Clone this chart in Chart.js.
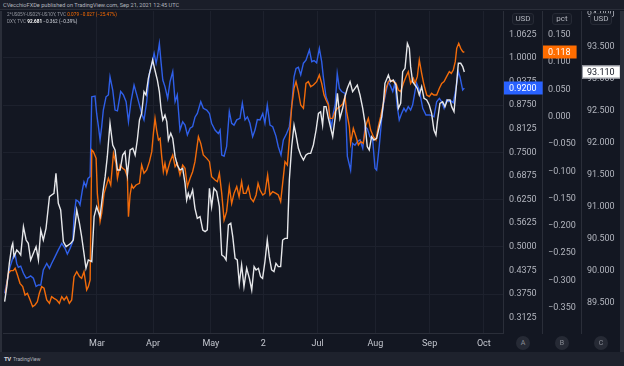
<!DOCTYPE html>
<html lang="en">
<head>
    <meta charset="UTF-8">
    <title>DXY vs US yield curve</title>
    <script src="https://cdn.jsdelivr.net/npm/chart.js"></script>
    <style>
        body {
            margin: 0;
            width: 624px;
            height: 366px;
            background: #131722;
            font-family: Roboto, "Liberation Sans", sans-serif;
            position: relative;
            overflow: hidden;
        }
        #hdr {
            position: absolute; left: 0; top: 0; width: 624px; height: 10px;
            background: #1a1e29; border-bottom: 1px solid #2a2e39;
            color: #b2b5be; font-size: 5.6px; line-height: 10px; padding-left: 3px; box-sizing: border-box;
        }
        .lg { position: absolute; left: 7px; font-size: 4.7px; color: #9598a1; white-space: nowrap; z-index: 2; }
        .lg .o { color: #ff6d00; }
        .lg .w { color: #ffffff; font-weight: bold; }
        .lg .v { color: #d1d4dc; }
        #frameL { position: absolute; left: 0; top: 11px; width: 2px; height: 341px; background: #2a2e39; }
        #frameR { position: absolute; left: 620px; top: 11px; width: 4px; height: 341px; background: #2a2e39; }
        #foot {
            position: absolute; left: 0; top: 352px; width: 624px; height: 14px;
            background: #1e222d; color: #b2b5be; font-size: 5px; line-height: 14px;
        }
        #foot b { position: absolute; left: 4px; font-size: 6px; color: #d1d4dc; letter-spacing: -0.5px; }
        #foot span { position: absolute; left: 13px; }
        .unit {
            position: absolute; top: 13px; height: 10px; line-height: 10px; font-size: 8px;
            color: #b2b5be; text-align: center; background: #171b26; border: 1px solid #262a35;
            border-radius: 3px; z-index: 2;
        }
        .ab {
            position: absolute; top: 336px; width: 14px; height: 14px; border-radius: 50%;
            background: #262a35; color: #8a8d96; font-size: 7px; line-height: 14px; text-align: center; z-index: 2;
        }
        canvas { position: absolute; left: 2px; top: 11px; }
    </style>
</head>
<body>
    <div id="hdr">CVecchioFXDe published on TradingView.com, Sep 21, 2021 12:45 UTC</div>
    <div class="lg" style="top:12px">2*US05Y-US02Y-US10Y, TVC <span class="o">0.079 &minus;0.027 (&minus;25.47%)</span></div>
    <div class="lg" style="top:19px">DXY, TVC <span class="w">92.681</span> <span class="v">&minus;0.362 (&minus;0.39%)</span></div>
    <div id="frameL"></div>
    <div id="frameR"></div>
    <canvas id="chart" width="618" height="341"></canvas>
    <div class="unit" style="left:512px;width:20px">USD</div>
    <div class="unit" style="left:552px;width:18px">pct</div>
    <div class="unit" style="left:590px;width:20px">USD</div>
    <div class="ab" style="left:516px">A</div>
    <div class="ab" style="left:555px">B</div>
    <div class="ab" style="left:594px">C</div>
    <div id="foot"><b>TV</b><span>TradingView</span></div>

    <script>
        // x values are day of year 2021 (Jan 1 = 0)
        const monthDays = [59, 90, 122, 151, 181, 213, 243, 273];
        const monthLabels = ['Mar', 'Apr', 'May', '2', 'Jul', 'Aug', 'Sep', 'Oct'];

        // blue series, left price scale (A, USD)
        const blueDays = [7.9, 10.9, 12.7, 13.7, 14.6, 15.5, 16.8, 18.3, 19.8, 21.0, 22.3, 23.8, 25.3, 26.6, 27.9, 29.3,
            31.2, 32.7, 33.9, 35.8, 37.6, 39.5, 41.3, 42.6, 44.1, 45.6, 46.3, 47.4, 48.7, 49.6, 50.9, 51.8, 52.9, 54.0,
            55.2, 56.1, 57.9, 58.8, 59.8, 60.7, 61.6, 62.5, 64.0, 65.3, 66.2, 67.7, 69.0, 70.3, 72.1, 73.6, 75.1, 76.4,
            77.8, 79.5, 81.0, 82.5, 83.7, 85.0, 86.5, 88.0, 89.3, 90.6, 91.7, 92.4, 93.5, 94.4, 95.4, 96.6, 98.1, 99.4,
            100.9, 102.2, 103.4, 104.9, 106.4, 107.7, 109.0, 110.5, 111.9, 113.2, 114.5, 116.4, 117.8, 119.7, 121.2,
            122.4, 124.3, 126.1, 127.1, 128.0, 129.3, 130.7, 132.2, 133.5, 134.8, 136.3, 138.1, 139.4, 140.9, 142.2,
            143.6, 145.1, 146.4, 147.7, 149.2, 150.7, 151.9, 153.2, 154.7, 156.2, 158.0, 159.3, 160.8, 162.1, 163.9,
            165.4, 166.7, 168.0, 169.1, 170.4, 171.7, 173.2, 174.6, 176.5, 177.8, 179.1, 180.5, 182.0, 183.3, 184.2,
            185.7, 187.0, 187.9, 188.8, 189.7, 190.8, 191.9, 193.1, 194.3, 196.2, 197.5, 199.3, 200.4, 201.7, 203.0,
            204.5, 206.0, 207.3, 208.5, 210.0, 211.5, 212.8, 213.7, 215.2, 216.5, 217.4, 218.9, 220.2, 221.5, 222.6,
            223.8, 225.1, 226.2, 227.5, 228.8, 229.9, 231.2, 232.5, 233.6, 234.9, 235.8, 237.3, 239.2, 241.0, 243.2,
            245.4, 246.9, 248.4, 249.7, 251.0, 252.4, 253.5, 254.6, 256.1, 257.6, 258.9, 259.8, 261.3, 262.2];
        const blueValues = [0.377, 0.4475, 0.474, 0.481, 0.456, 0.446, 0.449, 0.430, 0.417, 0.419, 0.423, 0.417, 0.395, 0.399, 0.399, 0.439,
            0.456, 0.443, 0.456, 0.474, 0.492, 0.509, 0.496, 0.481, 0.496, 0.514, 0.580, 0.624, 0.620, 0.611, 0.650, 0.672, 0.659, 0.681,
            0.686, 0.897, 0.899, 0.853, 0.818, 0.783, 0.818, 0.862, 0.897, 0.902, 0.950, 0.915, 0.862, 0.860, 0.911, 0.902, 0.884, 0.831,
            0.884, 0.928, 0.902, 0.875, 0.853, 0.836, 0.884, 0.959, 0.981, 1.012, 0.986, 1.003, 1.0385, 0.990, 0.9415, 0.924, 0.893, 0.937,
            0.9635, 0.884, 0.902, 0.809, 0.831, 0.822, 0.796, 0.814, 0.818, 0.843, 0.853, 0.884, 0.8665, 0.862, 0.853,
            0.827, 0.809, 0.800, 0.809, 0.743, 0.740, 0.765, 0.858, 0.827, 0.822, 0.836, 0.840, 0.880, 0.836, 0.844,
            0.827, 0.7915, 0.809, 0.837, 0.836, 0.853, 0.827, 0.875, 0.822, 0.818, 0.793, 0.765, 0.743, 0.783, 0.800,
            0.818, 0.871, 0.950, 0.972, 0.975, 0.955, 0.986, 0.994, 1.021, 0.990, 0.993, 0.987, 1.025, 0.990, 0.950,
            0.897, 0.880, 0.836, 0.818, 0.853, 0.878, 0.959, 0.919, 0.911, 0.906, 0.739, 0.703, 0.774, 0.769, 0.778,
            0.783, 0.761, 0.818, 0.813, 0.7915, 0.783, 0.708, 0.703, 0.769, 0.840, 0.875, 0.911, 0.937, 0.924, 0.911,
            0.933, 0.871, 0.836, 0.853, 0.8665, 0.858, 0.871, 0.862, 0.875, 0.911, 0.933, 0.915, 0.8665, 0.849, 0.849,
            0.844, 0.884, 0.893, 0.884, 0.8665, 0.8885, 0.884, 0.887, 0.8815, 0.919, 0.9635, 0.950, 0.915, 0.920];

        // 2*US05Y-US02Y-US10Y, pct scale (B)
        const curveDays = [8.3, 10.0, 11.3, 12.7, 13.7, 15.0, 16.4, 17.9, 19.2, 20.5, 22.0, 23.4, 24.7, 26.0, 27.1, 28.4,
            29.7, 31.2, 32.7, 33.9, 35.2, 36.7, 38.2, 39.5, 40.8, 42.2, 43.7, 45.0, 46.3, 47.8, 49.3, 50.5, 51.8, 53.3,
            54.2, 55.2, 56.1, 57.0, 58.5, 59.2, 60.7, 61.6, 62.9, 64.0, 65.3, 66.6, 68.1, 69.5, 70.3, 71.8, 73.2, 74.5,
            75.8, 76.4, 77.3, 78.2, 79.1, 80.6, 82.5, 83.7, 85.0, 86.5, 88.0, 89.3, 90.2, 91.1, 92.0, 93.0, 93.9, 94.8,
            95.7, 96.6, 97.6, 99.4, 100.9, 102.2, 103.4, 104.9, 106.4, 107.7, 109.0, 110.5, 111.9, 113.2, 115.1, 116.4,
            117.8, 119.7, 121.2, 122.4, 124.3, 125.6, 126.7, 128.0, 129.3, 130.7, 132.2, 133.5, 134.8, 136.3, 137.6,
            139.0, 140.0, 141.4, 142.7, 144.0, 145.5, 147.0, 148.1, 149.2, 150.7, 151.9, 153.4, 154.7, 156.2, 158.0,
            159.3, 160.6, 161.7, 163.0, 164.3, 165.4, 166.7, 168.0, 169.1, 170.4, 171.7, 173.2, 174.6, 175.9, 177.2,
            178.7, 180.5, 182.0, 183.3, 184.6, 185.7, 187.0, 187.9, 189.4, 190.7, 192.0, 193.4, 194.9, 196.2, 197.1,
            198.6, 199.3, 200.8, 202.3, 203.6, 204.9, 206.3, 207.8, 209.1, 210.4, 211.9, 213.3, 214.6, 215.9, 217.4,
            218.9, 220.2, 221.4, 222.9, 224.4, 225.7, 227.0, 228.5, 229.9, 231.2, 232.5, 234.0, 234.9, 236.2, 237.3,
            238.6, 239.9, 241.4, 242.8, 244.1, 245.4, 246.9, 248.4, 249.7, 251.0, 252.4, 253.9, 255.0, 256.1, 257.2,
            258.0, 259.1, 260.2, 261.3, 262.2];
        const curveValues = [-0.3235, -0.2869, -0.282, -0.282, -0.2777, -0.2899, -0.3052, -0.3113, -0.3266, -0.3235, -0.3357, -0.3479, -0.3449, -0.3388, -0.3235, -0.3113,
            -0.3143, -0.3357, -0.3418, -0.3296, -0.3327, -0.3357, -0.3418, -0.3296, -0.3357, -0.3296, -0.3418, -0.3357, -0.293, -0.2838, -0.293, -0.296, -0.2838, -0.3174,
            -0.3113, -0.2991, -0.061, -0.064, -0.0763, -0.1404, -0.1922, -0.177, -0.1404, -0.1281, -0.1129, -0.1251, -0.0671, -0.0854, -0.1129, -0.0885, -0.0946, -0.0976,
            -0.1098, -0.1831, -0.1434, -0.1251, -0.1312, -0.1251, -0.122, -0.0885, -0.1037, -0.0976, -0.0824, -0.064, -0.0305, -0.003, -0.0244, -0.0427, -0.0396, -0.0732,
            -0.1007, -0.0854, -0.1037, -0.0824, -0.0701, -0.0915, -0.0854, -0.1068, -0.0885, -0.0946, -0.1281, -0.1129, -0.1007, -0.0824, -0.0366, -0.0488,
            -0.0701, -0.0763, -0.0824, -0.1098, -0.1159, -0.119, -0.1037, -0.1404, -0.1892, -0.1739, -0.1281, -0.1587, -0.1404, -0.1281, -0.1465,
            -0.119, -0.1404, -0.1404, -0.1281, -0.1495, -0.1556, -0.1434, -0.122, -0.1342, -0.1434, -0.1404, -0.1068, -0.1434, -0.1373, -0.1404,
            -0.1434, -0.1556, -0.122, -0.0824, -0.0885, -0.0427, 0.0184, 0.052, 0.0642, 0.0458, 0.0214, 0.0153, 0.0611, 0.0642, 0.055,
            0.0581, 0.0642, 0.0764, 0.0611, 0.0397, 0.0306, 0.0214, -0.003, -0.003, 0.0092, 0.0153, 0.0184, 0.0233, 0.0367, 0.0092,
            -0.0183, -0.0488, -0.0213, -0.0366, -0.0518, -0.0457, -0.0488, -0.0152, -0.003, -0.0244, -0.0366, -0.0427, -0.0183, 0.0001, 0.0245,
            0.052, 0.0642, 0.0672, 0.0642, 0.0611, 0.0489, 0.0458, 0.0611, 0.0733, 0.0825, 0.0611, 0.0703, 0.0611, 0.0733, 0.1038,
            0.0794, 0.058, 0.0397, 0.0367, 0.0428, 0.0397, 0.0397, 0.052, 0.0611, 0.0642, 0.0733, 0.0825, 0.0794, 0.0855, 0.1008,
            0.1252, 0.1344, 0.1252, 0.1191, 0.118];

        // DXY, right-most scale (C)
        const dxyDays = [7.9, 9.1, 10.5, 11.8, 12.4, 13.1, 14.6, 15.5, 16.8, 18.3, 19.8, 21.0, 22.3, 23.8, 25.3, 26.6,
            27.9, 29.3, 30.8, 32.7, 33.9, 35.2, 36.3, 37.6, 38.9, 40.4, 41.9, 43.2, 44.5, 45.9, 47.8, 49.3, 50.5, 51.8,
            52.9, 54.2, 56.1, 57.4, 58.8, 60.7, 62.2, 63.5, 64.7, 66.2, 67.7, 69.0, 70.3, 71.8, 73.2, 74.5, 75.8, 77.3,
            78.8, 80.1, 81.3, 82.5, 83.7, 85.0, 86.1, 87.4, 88.7, 89.8, 90.6, 91.7, 92.4, 93.5, 94.4, 95.4, 96.6, 97.6,
            98.5, 99.8, 100.9, 102.2, 103.4, 104.9, 106.4, 107.7, 108.6, 109.5, 110.4, 111.9, 113.2, 114.5, 116.0, 117.5,
            118.8, 120.0, 121.2, 122.4, 123.7, 125.2, 126.7, 128.0, 129.3, 130.4, 131.7, 133.0, 134.1, 135.4, 136.6,
            137.7, 139.0, 140.3, 141.8, 143.3, 144.6, 145.9, 147.0, 148.3, 149.5, 150.6, 151.9, 153.2, 154.3, 155.6,
            156.9, 158.0, 159.3, 160.6, 161.7, 163.0, 164.3, 165.4, 166.7, 168.0, 169.1, 170.4, 171.7, 173.2, 174.6,
            175.9, 177.2, 178.7, 180.2, 181.5, 182.7, 183.8, 184.6, 185.7, 187.0, 187.9, 189.4, 190.7, 192.0, 193.4,
            194.9, 196.2, 197.5, 199.0, 200.4, 201.7, 203.0, 204.5, 206.0, 207.3, 208.5, 209.6, 210.9, 212.2, 213.7,
            215.2, 216.5, 217.4, 218.3, 220.2, 221.4, 222.9, 224.4, 225.7, 227.0, 228.1, 229.4, 230.7, 231.8, 232.5,
            233.6, 234.9, 236.2, 237.3, 238.6, 239.9, 241.4, 242.8, 244.1, 245.4, 246.5, 247.3, 248.7, 250.2, 251.5,
            252.8, 254.3, 255.2, 256.5, 257.6, 258.9, 260.2, 261.3, 262.2];
        const dxyValues = [89.521, 89.755, 90.120, 90.380, 90.432, 90.224, 90.328, 90.302, 90.250, 90.693, 90.484, 90.432, 90.172, 90.276, 90.380, 90.172,
            90.641, 90.484, 90.667, 91.161, 91.187, 91.213, 91.526, 91.057, 90.953, 90.458, 90.380, 90.406, 90.432, 90.484, 90.953, 90.745, 90.536, 90.276,
            90.042, 90.172, 90.146, 90.849, 91.005, 90.849, 91.213, 91.474, 91.786, 92.307, 91.969, 91.891, 91.578, 91.578, 91.812, 91.864, 91.500, 91.891,
            91.917, 91.812, 92.047, 92.359, 92.463, 92.802, 92.750, 93.010, 93.166, 93.297, 93.193, 93.062, 92.984, 92.802, 92.542, 92.359, 92.437, 92.333,
            92.047, 92.151, 92.073, 91.786, 91.656, 91.578, 91.604, 91.370, 91.109, 91.213, 91.135, 91.266, 90.979, 90.823, 90.849, 90.641,
            90.615, 90.641, 91.292, 91.005, 91.292, 91.240, 91.005, 90.250, 90.224, 90.172, 90.719, 90.745, 90.536, 90.198, 90.172,
            89.807, 90.094, 89.755, 90.042, 89.885, 89.703, 90.068, 90.016, 90.042, 89.911, 89.885, 90.146, 90.484, 90.224, 90.016,
            89.990, 90.120, 90.068, 90.068, 90.484, 90.510, 90.510, 91.422, 91.943, 92.281, 92.125, 91.917, 91.812, 91.734, 91.812,
            91.838, 91.838, 91.969, 92.203, 92.463, 92.489, 92.281, 92.568, 92.568, 92.385, 92.281, 92.099, 92.385, 92.776, 92.385,
            92.542, 92.724, 92.854, 92.958, 92.802, 92.854, 92.906, 92.750, 92.542, 92.307, 91.943, 91.891, 92.099, 92.047, 92.073,
            92.255, 92.411, 92.620, 92.932, 93.062, 92.958, 92.984, 92.906, 92.542, 92.620, 93.114, 93.166, 93.557, 93.479, 93.193,
            92.958, 92.906, 92.854, 92.750, 92.880, 92.698, 92.672, 92.594, 92.463, 92.203, 92.125, 92.333, 92.620, 92.646, 92.568,
            92.672, 92.672, 92.568, 92.489, 92.828, 93.245, 93.245, 93.193, 93.110];

        const tickColor = '#b2b5be';
        const gridColor = '#1d212d';
        const lineColor = '#2a2e39';
        const tickFont = { family: 'Roboto', size: 9 };

        function pairs(days, values) {
            return days.map((d, i) => ({ x: d, y: values[i] }));
        }

        function rightAxis(min, max, step, digits, weight, grid) {
            return {
                position: 'right',
                weight: weight,
                min: min,
                max: max,
                afterFit: s => { s.width = 39; s.paddingTop = 0; s.paddingBottom = 0; },
                ticks: {
                    stepSize: step,
                    includeBounds: false,
                    padding: 6,
                    color: tickColor,
                    font: tickFont,
                    callback: v => v.toFixed(digits).replace('-', '\u2212')
                },
                grid: {
                    drawTicks: false,
                    color: grid ? (c => (c.tick && Math.abs(c.tick.value * 8 - Math.round(c.tick.value * 8)) < 1e-6) ? gridColor : 'rgba(0,0,0,0)') : 'rgba(0,0,0,0)'
                },
                border: { display: true, color: lineColor }
            };
        }

        // price tags at the right, drawn on top of the scales
        const lastTags = {
            id: 'lastTags',
            afterDraw(chart) {
                const ctx = chart.ctx;
                ctx.save();
                ctx.font = '9px Roboto';
                ctx.textBaseline = 'middle';
                chart.data.datasets.forEach(ds => {
                    const sc = chart.scales[ds.yAxisID];
                    const last = ds.data[ds.data.length - 1].y;
                    const txt = last.toFixed(ds.tagDigits);
                    const y = Math.round(sc.getPixelForValue(last));
                    const w = ctx.measureText(txt).width + 11;
                    ctx.fillStyle = ds.tagBg;
                    ctx.fillRect(sc.left + 1, y - 6.5, w, 13);
                    if (ds.tagBorder) {
                        ctx.strokeStyle = ds.tagBorder;
                        ctx.lineWidth = 1;
                        ctx.strokeRect(sc.left + 1.5, y - 6, w - 1, 12);
                    }
                    ctx.fillStyle = ds.tagText;
                    ctx.fillText(txt, sc.left + 6, y + 0.5);
                });
                ctx.restore();
            }
        };

        const chart = new Chart(document.getElementById('chart').getContext('2d'), {
            type: 'line',
            data: {
                datasets: [
                    {
                        label: 'DXY',
                        data: pairs(dxyDays, dxyValues),
                        yAxisID: 'yC',
                        borderColor: '#e6e7ea',
                        tagDigits: 3, tagBg: '#ffffff', tagText: '#131722', tagBorder: '#9598a1'
                    },
                    {
                        label: '2*US05Y-US02Y-US10Y',
                        data: pairs(curveDays, curveValues),
                        yAxisID: 'yB',
                        borderColor: '#f26b0a',
                        tagDigits: 3, tagBg: '#ff6d00', tagText: '#ffffff'
                    },
                    {
                        label: 'Blue',
                        data: pairs(blueDays, blueValues),
                        yAxisID: 'yA',
                        borderColor: '#2f5fe8',
                        tagDigits: 4, tagBg: '#2962ff', tagText: '#ffffff'
                    }
                ]
            },
            options: {
                responsive: false,
                animation: false,
                layout: { padding: { left: 1, top: 0, right: 0, bottom: 0 } },
                elements: {
                    point: { radius: 0 },
                    line: { borderWidth: 1.4, tension: 0 }
                },
                plugins: {
                    legend: { display: false },
                    tooltip: { enabled: false }
                },
                scales: {
                    x: {
                        type: 'linear',
                        position: 'bottom',
                        min: 7.0,
                        max: 283.6,
                        afterBuildTicks: s => { s.ticks = monthDays.map(v => ({ value: v })); },
                        afterFit: s => { s.height = 19; s.paddingLeft = 0; s.paddingRight = 0; },
                        ticks: {
                            autoSkip: false,
                            maxRotation: 0,
                            padding: 5,
                            color: '#c3c6ce',
                            font: tickFont,
                            callback: (v, i) => monthLabels[i]
                        },
                        grid: { drawTicks: false, color: gridColor },
                        border: { display: true, color: lineColor }
                    },
                    yA: rightAxis(0.2720, 1.1241, 0.0625, 4, 0, true),
                    yB: rightAxis(-0.3962, 0.1936, 0.05, 3, 1, false),
                    yC: rightAxis(89.031, 94.0625, 0.5, 3, 2, false)
                }
            },
            plugins: [lastTags]
        });
    </script>
</body>
</html>
